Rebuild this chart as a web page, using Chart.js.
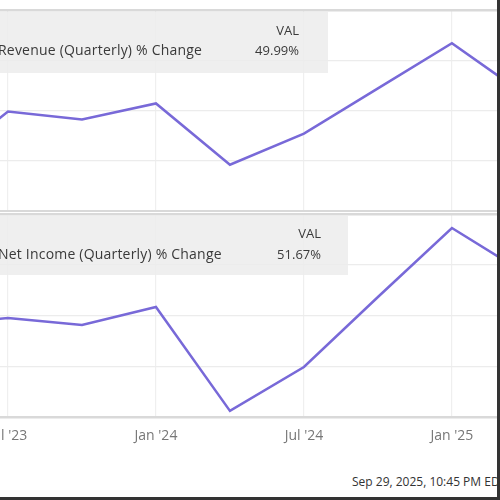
<!DOCTYPE html>
<html>
<head>
<meta charset="utf-8">
<script src="https://cdn.jsdelivr.net/npm/chart.js@4.4.0/dist/chart.umd.min.js"></script>
<style>
body { margin: 0; background: #fff; font-family: "Open Sans", "Liberation Sans", Arial, sans-serif; }
#wrap { position: relative; width: 497px; height: 497px; overflow: hidden; border-right: 3px solid #333; border-bottom: 3px solid #333; }
.panel { position: absolute; left: 0; width: 500px; }
.legend { position: absolute; left: 0; background: rgba(236,236,236,0.85); color: #3a3a3a; font-size: 13px; }
.legend .name { position: absolute; left: -2px; white-space: nowrap; font-size: 14px; letter-spacing: 0.2px; }
.legend .val { position: absolute; text-align: right; white-space: nowrap; }
#footer { position: absolute; left: 352px; top: 473px; font-size: 12px; color: #333; white-space: nowrap; }
</style>
</head>
<body>
<div id="wrap">
	<div class="panel" style="top:0;height:212px;"><canvas id="revenue-chart"></canvas></div>
	<div class="panel" style="top:212px;height:235px;"><canvas id="income-chart"></canvas></div>

	<div class="legend" style="top:12px;width:328px;height:61px;">
		<div class="val" style="right:29px;top:9px;">VAL</div>
		<div class="name" style="top:28px;">Revenue (Quarterly) % Change</div>
		<div class="val" style="right:29px;top:29px;">49.99%</div>
	</div>
	<div class="legend" style="top:215px;width:348px;height:60px;">
		<div class="val" style="right:27px;top:9px;">VAL</div>
		<div class="name" style="top:29px;">Net Income (Quarterly) % Change</div>
		<div class="val" style="right:27px;top:30px;">51.67%</div>
	</div>
	<div id="footer">Sep 29, 2025, 10:45 PM EDT Powered by YCharts</div>
</div>
<script>
// months counted from Jan 2023, quarter ends
var quarterMonths = [3, 6, 9, 12, 15, 18, 21, 24, 27, 30];
var revenueChange = [12, 59.2, 52.8, 65.6, 16.8, 41.6, 77.6, 113.6, 72, 49.99];
var incomeChange = [-8, -2.5, -9.4, 8.4, -94, -50.7, 18.2, 86.2, 41, 51.67];
var tickMonths = [6, 12, 18, 24];
var tickLabels = ["Jul '23", "Jan '24", "Jul '24", "Jan '25"];

var lineColor = "#7869d8";
var xMin = 5.676, xMax = 25.95;

function toPoints(values) {
	var pts = [];
	for (var i = 0; i < values.length; i++) {
		pts.push({x: quarterMonths[i], y: values[i]});
	}
	return pts;
}

function yGridColor(ctx) {
	var last = ctx.scale.ticks.length - 1;
	return (ctx.index === 0 || ctx.index === last) ? "#d9d9d9" : "#ececec";
}
function yGridWidth(ctx) {
	var last = ctx.scale.ticks.length - 1;
	return (ctx.index === 0 || ctx.index === last) ? 2.5 : 1.2;
}

function makeChart(canvasId, values, yMin, yMax, yStep, showLabels, pad) {
	return new Chart(document.getElementById(canvasId), {
		type: "line",
		data: {
			datasets: [{
				data: toPoints(values),
				borderColor: lineColor,
				borderWidth: 2.5,
				pointRadius: 0,
				tension: 0
			}]
		},
		options: {
			responsive: true,
			maintainAspectRatio: false,
			animation: false,
			layout: { padding: pad },
			plugins: { legend: { display: false }, tooltip: { enabled: false } },
			scales: {
				x: {
					type: "linear",
					min: xMin,
					max: xMax,
					afterBuildTicks: function(scale) {
						scale.ticks = tickMonths.map(function(v) { return {value: v}; });
					},
					afterFit: function(scale) {
						scale.height = showLabels ? 30 : 0;
						scale.paddingLeft = 0;
						scale.paddingRight = 0;
					},
					grid: { color: "#efefef", lineWidth: 1.2, drawTicks: false },
					border: { display: false },
					ticks: {
						display: showLabels,
						padding: 11,
						maxRotation: 0,
						autoSkip: false,
						color: "#777",
						font: { family: "Open Sans", size: 14 },
						callback: function(value) { return tickLabels[tickMonths.indexOf(value)]; }
					}
				},
				y: {
					min: yMin,
					max: yMax,
					afterFit: function(scale) { scale.width = 0; },
					grid: { color: yGridColor, lineWidth: yGridWidth, drawTicks: false },
					border: { display: false },
					ticks: { display: false, stepSize: yStep }
				}
			}
		}
	});
}

makeChart("revenue-chart", revenueChange, -20, 140, 40, false, {top: 10, bottom: 1});
makeChart("income-chart", incomeChange, -100, 100, 50, true, {top: 2, bottom: 0});
</script>
</body>
</html>
